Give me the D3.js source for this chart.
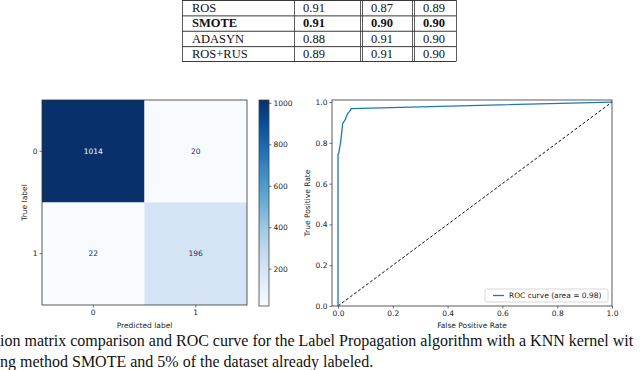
<!DOCTYPE html>
<html>
<head>
<meta charset="utf-8">
<script src="https://cdn.jsdelivr.net/npm/d3@7"></script>
<style>
  body { margin: 0; background: #fff; }
  svg { display: block; }
  .tick text { font-family: "DejaVu Sans", sans-serif; font-size: 7.5px; fill: #222; }
  .tick line { stroke: #333; stroke-width: 0.7; }
  .domain { display: none; }
</style>
</head>
<body>
<svg id="fig" width="640" height="370"></svg>
<script>
// --- table (top, cut off) ---
const methods = ["ROS", "SMOTE", "ADASYN", "ROS+RUS"];
const colA = [0.91, 0.91, 0.88, 0.89];
const colB = [0.87, 0.90, 0.91, 0.91];
const colC = [0.89, 0.90, 0.90, 0.90];
const boldRow = "SMOTE";

// --- confusion matrix ---
const classes = ["0", "1"];
const matrix = [[1014, 20], [22, 196]];
const cbarTicks = [200, 400, 600, 800, 1000];

// --- ROC curve ---
const fpr = [0, 0, 0.003, 0.005, 0.008, 0.010, 0.013, 0.015, 0.017, 0.022, 0.027, 0.031, 0.036, 0.041, 0.046, 0.048, 1.0];
const tpr = [0, 0.745, 0.75, 0.77, 0.79, 0.81, 0.845, 0.87, 0.895, 0.905, 0.915, 0.93, 0.945, 0.952, 0.96, 0.968, 1.0];
const rocTicks = [0, 0.2, 0.4, 0.6, 0.8, 1.0];
const rocArea = 0.98;

const captionLines = [
  "ion matrix comparison and ROC curve for the Label Propagation algorithm with a KNN kernel wit",
  "ng method SMOTE and 5% of the dataset already labeled."
];

const svg = d3.select("#fig");
const sans = "'DejaVu Sans', sans-serif";
const serif = "'Liberation Serif', 'Times New Roman', serif";

// ---------------- table ----------------
const colEdges = [182, 294, 362, 414, 456];
const rowY = d3.scaleBand().domain(methods).range([0, 61.5]);
const table = svg.append("g").attr("class", "table");

const rows = methods.map((m, i) => [m, colA[i], colB[i], colC[i]]);
rows.forEach(r => {
  const g = table.append("g").attr("transform", `translate(0,${rowY(r[0])})`);
  r.forEach((v, j) => {
    g.append("text")
      .attr("x", colEdges[j] + (j === 0 ? 10 : 9))
      .attr("y", rowY.bandwidth() / 2)
      .attr("dy", "0.35em")
      .attr("font-family", serif)
      .attr("font-size", 12.5)
      .attr("font-weight", r[0] === boldRow ? "bold" : "normal")
      .attr("fill", "#111")
      .text(j === 0 ? v : v.toFixed(2));
  });
});
// horizontal rules
methods.forEach(m => {
  table.append("line")
    .attr("x1", colEdges[0]).attr("x2", colEdges[4])
    .attr("y1", rowY(m) + 0.5).attr("y2", rowY(m) + 0.5)
    .attr("stroke", "#222").attr("stroke-width", 0.9);
});
table.append("line")
  .attr("x1", colEdges[0]).attr("x2", colEdges[4])
  .attr("y1", 61.5).attr("y2", 61.5)
  .attr("stroke", "#222").attr("stroke-width", 0.9);
// vertical rules (double between metric columns)
const vlines = [colEdges[0], colEdges[1], colEdges[2] - 2, colEdges[2], colEdges[3] - 2, colEdges[3], colEdges[4]];
vlines.forEach(x => {
  table.append("line")
    .attr("x1", x + 0.5).attr("x2", x + 0.5)
    .attr("y1", 0).attr("y2", 61.5)
    .attr("stroke", "#333").attr("stroke-width", 0.8);
});

// ---------------- confusion matrix ----------------
const cm = {x0: 42, x1: 247, y0: 100, y1: 305};
const cx = d3.scaleBand().domain(classes).range([cm.x0, cm.x1]);
const cy = d3.scaleBand().domain(classes).range([cm.y0, cm.y1]);
const flat = matrix.flat();
const vmin = d3.min(flat), vmax = d3.max(flat);
const bluesStops = ["#f7fbff", "#deebf7", "#c6dbef", "#9ecae1", "#6baed6", "#4292c6", "#2171b5", "#08519c", "#08306b"];
const blues = d3.scaleLinear()
  .domain(d3.range(9).map(i => vmin + (vmax - vmin) * i / 8))
  .range(bluesStops)
  .interpolate(d3.interpolateRgb);

const cmg = svg.append("g");
matrix.forEach((row, i) => {
  row.forEach((v, j) => {
    cmg.append("rect")
      .attr("x", cx(classes[j])).attr("y", cy(classes[i]))
      .attr("width", cx.bandwidth()).attr("height", cy.bandwidth())
      .attr("fill", blues(v));
    cmg.append("text")
      .attr("x", cx(classes[j]) + cx.bandwidth() / 2)
      .attr("y", cy(classes[i]) + cy.bandwidth() / 2)
      .attr("dy", "0.35em")
      .attr("text-anchor", "middle")
      .attr("font-family", sans).attr("font-size", 7.5)
      .attr("fill", v > (vmin + vmax) / 2 ? bluesStops[0] : bluesStops[8])
      .text(v);
  });
});
cmg.append("rect")
  .attr("x", cm.x0).attr("y", cm.y0)
  .attr("width", cm.x1 - cm.x0).attr("height", cm.y1 - cm.y0)
  .attr("fill", "none").attr("stroke", "#333").attr("stroke-width", 0.8);

svg.append("g")
  .attr("transform", `translate(0,${cm.y1})`)
  .call(d3.axisBottom(cx).tickSize(2.5).tickPadding(2));
svg.append("g")
  .attr("transform", `translate(${cm.x0},0)`)
  .call(d3.axisLeft(cy).tickSize(2.5).tickPadding(2));

svg.append("text")
  .attr("x", (cm.x0 + cm.x1) / 2).attr("y", 328)
  .attr("text-anchor", "middle")
  .attr("font-family", sans).attr("font-size", 7.5).attr("fill", "#222")
  .text("Predicted label");
svg.append("text")
  .attr("transform", `translate(24,${(cm.y0 + cm.y1) / 2}) rotate(-90)`)
  .attr("text-anchor", "middle").attr("dy", "0.35em")
  .attr("font-family", sans).attr("font-size", 7.5).attr("fill", "#222")
  .text("True label");

// colorbar
const cb = {x0: 259, x1: 269, y0: 100, y1: 306};
const cbY = d3.scaleLinear().domain([vmin, vmax]).range([cb.y1, cb.y0]);
const defs = svg.append("defs");
const grad = defs.append("linearGradient")
  .attr("id", "cbgrad").attr("x1", 0).attr("y1", 1).attr("x2", 0).attr("y2", 0);
bluesStops.forEach((c, i) => {
  grad.append("stop").attr("offset", i / 8).attr("stop-color", c);
});
svg.append("rect")
  .attr("x", cb.x0).attr("y", cb.y0)
  .attr("width", cb.x1 - cb.x0).attr("height", cb.y1 - cb.y0)
  .attr("fill", "url(#cbgrad)")
  .attr("stroke", "#444").attr("stroke-width", 0.8);
svg.append("g")
  .attr("transform", `translate(${cb.x1},0)`)
  .call(d3.axisRight(cbY).tickValues(cbarTicks).tickFormat(d3.format("d")).tickSize(2.5).tickPadding(2));

// ---------------- ROC ----------------
const rc = {x0: 332, x1: 612, y0: 100, y1: 306};
const rx = d3.scaleLinear().domain([-0.022, 1.0]).range([rc.x0, rc.x1]);
const ry = d3.scaleLinear().domain([0, 1.01]).range([rc.y1, rc.y0]);

svg.append("defs").append("clipPath").attr("id", "rocclip")
  .append("rect").attr("x", rc.x0).attr("y", rc.y0)
  .attr("width", rc.x1 - rc.x0).attr("height", rc.y1 - rc.y0);

const rocG = svg.append("g").attr("clip-path", "url(#rocclip)");
const line = d3.line().x(d => rx(d[0])).y(d => ry(d[1]));
rocG.append("path")
  .datum([[0, 0], [1, 1]])
  .attr("d", line)
  .attr("fill", "none").attr("stroke", "#111")
  .attr("stroke-width", 1).attr("stroke-dasharray", "3,2");
rocG.append("path")
  .datum(d3.zip(fpr, tpr))
  .attr("d", line)
  .attr("fill", "none").attr("stroke", "#1f77b4")
  .attr("stroke-width", 1.3).attr("stroke-linejoin", "round");

svg.append("rect")
  .attr("x", rc.x0).attr("y", rc.y0)
  .attr("width", rc.x1 - rc.x0).attr("height", rc.y1 - rc.y0)
  .attr("fill", "none").attr("stroke", "#333").attr("stroke-width", 0.8);

const fmt = d3.format(".1f");
svg.append("g")
  .attr("transform", `translate(0,${rc.y1})`)
  .call(d3.axisBottom(rx).tickValues(rocTicks).tickFormat(fmt).tickSize(2.5).tickPadding(2));
svg.append("g")
  .attr("transform", `translate(${rc.x0},0)`)
  .call(d3.axisLeft(ry).tickValues(rocTicks).tickFormat(fmt).tickSize(2.5).tickPadding(2));

svg.append("text")
  .attr("x", (rc.x0 + rc.x1) / 2).attr("y", 328)
  .attr("text-anchor", "middle")
  .attr("font-family", sans).attr("font-size", 7.5).attr("fill", "#222")
  .text("False Positive Rate");
svg.append("text")
  .attr("transform", `translate(307,${(rc.y0 + rc.y1) / 2}) rotate(-90)`)
  .attr("text-anchor", "middle").attr("dy", "0.35em")
  .attr("font-family", sans).attr("font-size", 7.5).attr("fill", "#222")
  .text("True Positive Rate");

// legend
const lg = svg.append("g").attr("transform", `translate(${rc.x1 - 127},${rc.y1 - 17})`);
lg.append("rect")
  .attr("width", 123).attr("height", 13).attr("rx", 1.5)
  .attr("fill", "#fff").attr("stroke", "#ccc").attr("stroke-width", 0.8);
lg.append("line")
  .attr("x1", 8).attr("x2", 19).attr("y1", 6.5).attr("y2", 6.5)
  .attr("stroke", "#1f77b4").attr("stroke-width", 1.3);
lg.append("text")
  .attr("x", 24).attr("y", 6.5).attr("dy", "0.35em")
  .attr("font-family", sans).attr("font-size", 7.5).attr("fill", "#222")
  .text(`ROC curve (area = ${rocArea.toFixed(2)})`);

// ---------------- caption ----------------
captionLines.forEach((t, i) => {
  svg.append("text")
    .attr("x", 0).attr("y", 346 + i * 21)
    .attr("font-family", serif).attr("font-size", 16)
    .attr("fill", "#111")
    .text(t);
});
</script>
</body>
</html>
